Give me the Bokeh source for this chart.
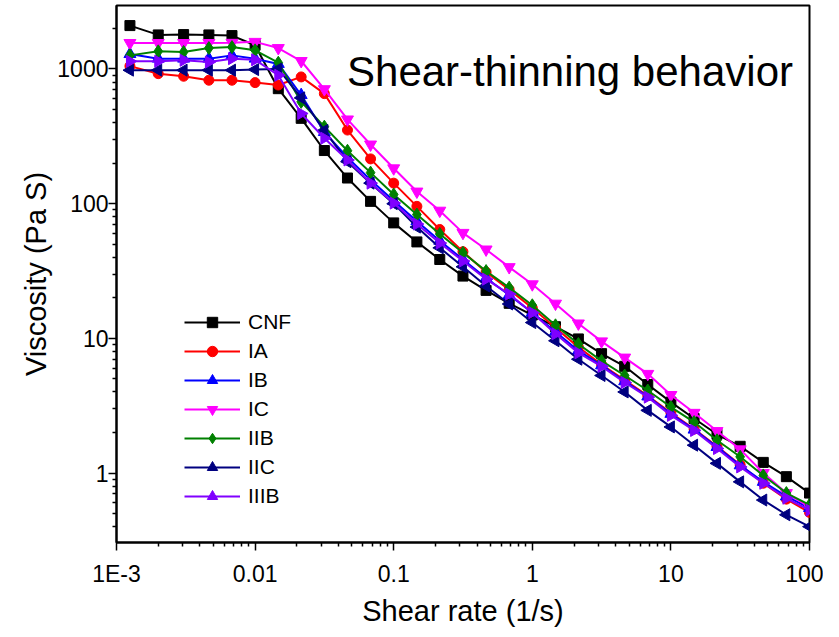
import math
from bokeh.plotting import figure
from bokeh.models import (FixedTicker, CustomJSTickFormatter, Legend, LegendItem,
                          Label, Range1d)
from bokeh.embed import file_html
from bokeh.resources import INLINE

# ---- data ----
shear_rate = [0.00125, 0.002, 0.00305, 0.00464, 0.00681, 0.01, 0.0147, 0.0215,
              0.0316, 0.0464, 0.0681, 0.1, 0.147, 0.215, 0.316, 0.464, 0.681,
              1.0, 1.47, 2.15, 3.16, 4.64, 6.81, 10.0, 14.7, 21.5, 31.6, 46.4,
              68.1, 100.0]

cnf = [2100, 1790, 1800, 1790, 1770, 1500, 714, 430, 248, 155, 104, 72, 52,
       38.5, 29, 22.7, 18.2, 14.9, 12.2, 9.9, 7.7, 6.2, 4.54, 3.36, 2.54, 1.94,
       1.58, 1.20, 0.94, 0.71]
ia = [1050, 923, 883, 825, 825, 792, 760, 873, 656, 352, 215, 142, 95.5, 64.3,
      44, 31, 23, 16.8, 12, 8.6, 6.4, 4.9, 3.75, 2.8, 2.12, 1.58, 1.15, 0.84,
      0.64, 0.51]
ib = [1290, 1193, 1193, 1193, 1262, 1193, 1090, 640, 340, 220, 150, 105, 74,
      53, 38.5, 28, 21, 15.5, 11.2, 8.1, 6.3, 4.8, 3.7, 2.75, 2.1, 1.56, 1.14,
      0.86, 0.67, 0.55]
ic = [1560, 1560, 1560, 1560, 1565, 1590, 1430, 1146, 708, 422, 275, 183, 123,
      88.7, 60.7, 45.7, 33.8, 25.2, 18.1, 12.9, 9.5, 7.2, 5.45, 3.8, 2.8, 2.05,
      1.5, 1.0, 0.71, 0.56]
iib = [1262, 1352, 1336, 1430, 1454, 1375, 1113, 570, 373, 247, 170, 117, 83,
       59.6, 43.2, 31.6, 23.8, 17.6, 12.5, 9.08, 6.8, 5.3, 4.1, 3.09, 2.39,
       1.75, 1.32, 0.96, 0.71, 0.58]
iic = [980, 980, 980, 980, 980, 990, 1000, 610, 350, 205, 142, 100, 67, 47,
       34, 24.5, 18, 13.1, 9.6, 7.0, 5.3, 4.0, 2.92, 2.2, 1.61, 1.18, 0.86,
       0.63, 0.49, 0.40]
iiib = [1140, 1140, 1160, 1126, 1193, 1170, 898, 467, 306, 211, 142, 101, 70.6,
        51, 37.5, 27.5, 21.3, 15.5, 10.8, 7.8, 6.2, 4.7, 3.66, 2.68, 2.07, 1.52,
        1.11, 0.84, 0.65, 0.53]

series_names = ["CNF", "IA", "IB", "IC", "IIB", "IIC", "IIIB"]
series_values = [cnf, ia, ib, ic, iib, iic, iiib]

x_tick_values = [0.001, 0.01, 0.1, 1, 10, 100]
y_tick_values = [1, 10, 100, 1000]

# ---- styles ----
colors = ["#000000", "#FF0000", "#0000FF", "#FF00FF", "#008000", "#000080", "#8000FF"]
markers = ["square", "circle", "triangle", "inverted_triangle", "diamond",
           "triangle", "triangle"]
angles = [0, 0, 0, 0, 0, math.pi / 2, -math.pi / 2]
sizes = [10, 10, 12, 12, 13, 12, 12]

FONT = "Liberation Sans"

p = figure(width=823, height=629, x_axis_type="log", y_axis_type="log",
           x_range=Range1d(0.001, 100), y_range=Range1d(0.305, 2960),
           output_backend="svg", toolbar_location=None,
           min_border_left=116, min_border_right=14, min_border_top=5,
           min_border_bottom=85)

p.background_fill_color = "white"
p.border_fill_color = "white"
p.outline_line_color = "black"
p.outline_line_width = 2
p.xgrid.visible = False
p.ygrid.visible = False

x_minor = [d * m for d in [0.001, 0.01, 0.1, 1, 10] for m in range(2, 10)]
y_minor = [d * m for d in [0.1, 1, 10, 100, 1000] for m in range(2, 10)]
p.xaxis.ticker = FixedTicker(ticks=x_tick_values, minor_ticks=x_minor)
p.yaxis.ticker = FixedTicker(ticks=y_tick_values, minor_ticks=y_minor)

p.xaxis.formatter = CustomJSTickFormatter(code="""
if (tick < 0.0015) { return '1E-3'; }
return String(tick);
""")
p.yaxis.formatter = CustomJSTickFormatter(code="return String(tick);")

for ax in (p.xaxis[0], p.yaxis[0]):
    ax.axis_line_width = 2
    ax.axis_line_color = "black"
    ax.major_tick_in = 0
    ax.major_tick_out = 8
    ax.minor_tick_in = 0
    ax.minor_tick_out = 4
    ax.major_tick_line_width = 1.5
    ax.minor_tick_line_width = 1.5
    ax.major_tick_line_color = "black"
    ax.minor_tick_line_color = "black"
    ax.major_label_text_font = FONT
    ax.major_label_text_font_size = "23px"
    ax.major_label_text_color = "black"
    ax.axis_label_text_font = FONT
    ax.axis_label_text_font_size = "29px"
    ax.axis_label_text_font_style = "normal"
    ax.axis_label_text_color = "black"

p.xaxis.axis_label = "Shear rate (1/s)"
p.yaxis.axis_label = "Viscosity (Pa S)"
p.xaxis.major_label_standoff = 10
p.yaxis.major_label_standoff = 0
p.xaxis.axis_label_standoff = 5
p.yaxis.axis_label_standoff = 2

items = []
for name, vals, c, mk, ang, sz in zip(series_names, series_values, colors,
                                      markers, angles, sizes):
    lr = p.line(shear_rate, vals, line_color=c, line_width=2)
    sr = p.scatter(shear_rate, vals, marker=mk, size=sz, angle=ang,
                   fill_color=c, line_color=c)
    items.append(LegendItem(label=name, renderers=[lr, sr]))

legend = Legend(items=items, location=(68, 33))
legend.background_fill_alpha = 0
legend.border_line_alpha = 0
legend.padding = 0
legend.margin = 0
legend.spacing = 3
legend.glyph_width = 56
legend.glyph_height = 26
legend.label_height = 26
legend.label_standoff = 8
legend.label_text_font = FONT
legend.label_text_font_size = "21px"
legend.label_text_color = "black"
p.add_layout(legend)

title = Label(x=76, y=960, text="Shear-thinning behavior", text_align="right",
              text_baseline="alphabetic", text_font=FONT, text_font_size="42px",
              text_color="black")
p.add_layout(title)

open("out.html", "w").write(file_html(p, INLINE))
